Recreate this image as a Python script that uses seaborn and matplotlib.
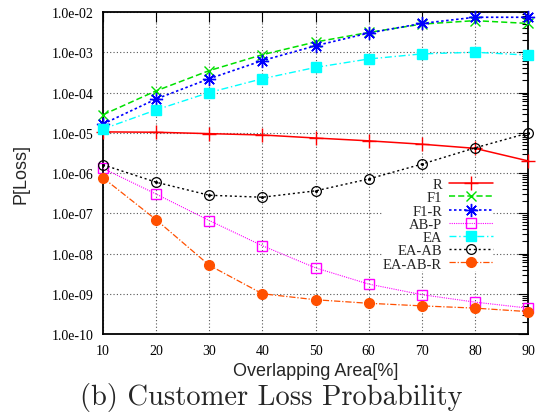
import numpy as np
import pandas as pd
import matplotlib
matplotlib.use("Agg")
import matplotlib.pyplot as plt
from matplotlib.ticker import LogLocator, FixedLocator, NullFormatter, FuncFormatter
import seaborn as sns

# Overlapping area (%) on the x axis
overlap = [10, 20, 30, 40, 50, 60, 70, 80, 90]

# Customer loss probability for each scheme
p_r = [1.05e-5, 1.03e-5, 9.5e-6, 8.8e-6, 7.4e-6, 6.3e-6, 5.2e-6, 4.1e-6, 2.0e-6]
p_f1 = [2.8e-5, 1.1e-4, 3.5e-4, 8.7e-4, 1.8e-3, 3.1e-3, 5.0e-3, 6.1e-3, 5.2e-3]
p_f1_r = [1.65e-5, 6.9e-5, 2.2e-4, 6.2e-4, 1.45e-3, 3.0e-3, 5.2e-3, 7.4e-3, 7.4e-3]
p_ab_p = [1.3e-6, 3.0e-7, 6.6e-8, 1.56e-8, 4.4e-9, 1.74e-9, 9.5e-10, 6.2e-10, 4.4e-10]
p_ea = [1.24e-5, 3.7e-5, 1.0e-4, 2.2e-4, 4.2e-4, 6.8e-4, 9.1e-4, 1.0e-3, 8.5e-4]
p_ea_ab = [1.6e-6, 5.9e-7, 2.8e-7, 2.5e-7, 3.6e-7, 7.1e-7, 1.66e-6, 4.2e-6, 9.8e-6]
p_ea_ab_r = [7.6e-7, 6.9e-8, 5.1e-9, 1.0e-9, 7.1e-10, 5.8e-10, 5.0e-10, 4.4e-10, 3.6e-10]

series_names = ["R", "F1", "F1-R", "AB-P", "EA", "EA-AB", "EA-AB-R"]
series_values = [p_r, p_f1, p_f1_r, p_ab_p, p_ea, p_ea_ab, p_ea_ab_r]

x_ticks = [10, 20, 30, 40, 50, 60, 70, 80, 90]
y_ticks = [1e-10, 1e-9, 1e-8, 1e-7, 1e-6, 1e-5, 1e-4, 1e-3, 1e-2]

df = pd.DataFrame(
    [(x, v, name) for name, vals in zip(series_names, series_values)
     for x, v in zip(overlap, vals)],
    columns=["overlap", "ploss", "scheme"],
)

styles = {
    "R":       dict(color="#ff0000", ls="-",  marker="+", ms=9.5, mfc="#ff0000", mew=1.0, lw=1.1),
    "F1":      dict(color="#00e000", ls=(0, (4, 2)), marker="x", ms=7.5, mfc="#00e000", mew=1.0, lw=1.1),
    "F1-R":    dict(color="#0000ff", ls=(0, (1.5, 1.5)), marker=(8, 2, 0), ms=9.5, mfc="#0000ff", mew=1.0, lw=1.2),
    "AB-P":    dict(color="#ff00ff", ls=(0, (1, 1)), marker="s", ms=7, mfc="none", mew=1.0, lw=0.8),
    "EA":      dict(color="#00ffff", ls=(0, (5, 2, 1, 2)), marker="s", ms=7.5, mfc="#00ffff", mew=1.0, lw=1.0),
    "EA-AB":   dict(color="#000000", ls=(0, (1.5, 2)), marker="o", ms=7, mfc="none", mew=0.9, lw=1.0),
    "EA-AB-R": dict(color="#ff5000", ls=(0, (5, 1.5, 1, 1.5)), marker="o", ms=7, mfc="#ff5000", mew=1.0, lw=0.9),
}

sns.set_style("white")
plt.rcParams["font.family"] = ["Liberation Serif", "DejaVu Serif"]

fig = plt.figure(figsize=(5.43, 4.14), dpi=100)
ax = fig.add_axes([0.1897, 0.1908, 0.9724 - 0.1897, 0.9686 - 0.1908])

handles = []
for name in series_names:
    st = styles[name]
    sub = df[df["scheme"] == name]
    sns.lineplot(data=sub, x="overlap", y="ploss", ax=ax, color=st["color"],
                 linestyle=st["ls"], linewidth=st["lw"], marker=st["marker"],
                 markersize=st["ms"], markerfacecolor=st["mfc"],
                 markeredgecolor=st["color"], markeredgewidth=st["mew"],
                 legend=False, zorder=3, clip_on=False)
    if name == "EA-AB":
        # centre dot inside the open circles
        ax.scatter(sub["overlap"], sub["ploss"], s=1.5, color="#000000", zorder=4, clip_on=False)
    handles.append(plt.Line2D([], [], color=st["color"], linestyle=st["ls"], linewidth=st["lw"],
                              marker=st["marker"], markersize=st["ms"],
                              markerfacecolor=st["mfc"], markeredgecolor=st["color"],
                              markeredgewidth=st["mew"]))

ax.set_yscale("log")
ax.set_xlim(10, 90)
ax.set_ylim(1e-10, 1e-2)
ax.xaxis.set_major_locator(FixedLocator(x_ticks))
ax.yaxis.set_major_locator(FixedLocator(y_ticks))
ax.yaxis.set_minor_locator(LogLocator(base=10, subs=np.arange(2, 10), numticks=20))
ax.yaxis.set_minor_formatter(NullFormatter())


def sci_label(v, _pos):
    exp = int(round(np.log10(v)))
    sign = "-" if exp < 0 else "+"
    return f"1.0e{sign}{abs(exp):02d}"


ax.yaxis.set_major_formatter(FuncFormatter(sci_label))

ax.grid(True, which="major", color="#555555", linestyle=(0, (1, 2)), linewidth=0.8, zorder=1)
ax.tick_params(axis="both", which="both", direction="in", top=True, right=True,
               labelsize=10, colors="black", pad=7)
ax.tick_params(which="major", length=7, width=0.8)
ax.tick_params(which="minor", length=4, width=0.8)
for sp in ax.spines.values():
    sp.set_linewidth(1.3)
    sp.set_color("black")

ax.set_xlabel("Overlapping Area[%]", fontsize=13, family=["Liberation Sans", "DejaVu Sans"], labelpad=4)
ax.set_ylabel("P[Loss]", fontsize=13, family=["Liberation Sans", "DejaVu Sans"], labelpad=16)

leg = ax.legend(handles, series_names, loc="upper right", bbox_to_anchor=(0.935, 0.507),
                markerfirst=False, frameon=True, fancybox=False, framealpha=1,
                facecolor="white", edgecolor="none", fontsize=10.5, labelspacing=0.0,
                handlelength=3.0, handletextpad=0.5, borderpad=0.0, numpoints=1)
leg.set_zorder(5)

fig.text(0.5, 0.04, "(b) Customer Loss Probability", ha="center", va="center",
         fontsize=20.5, family=["cmr10", "DejaVu Serif"])

fig.savefig("out.png", dpi=100)
